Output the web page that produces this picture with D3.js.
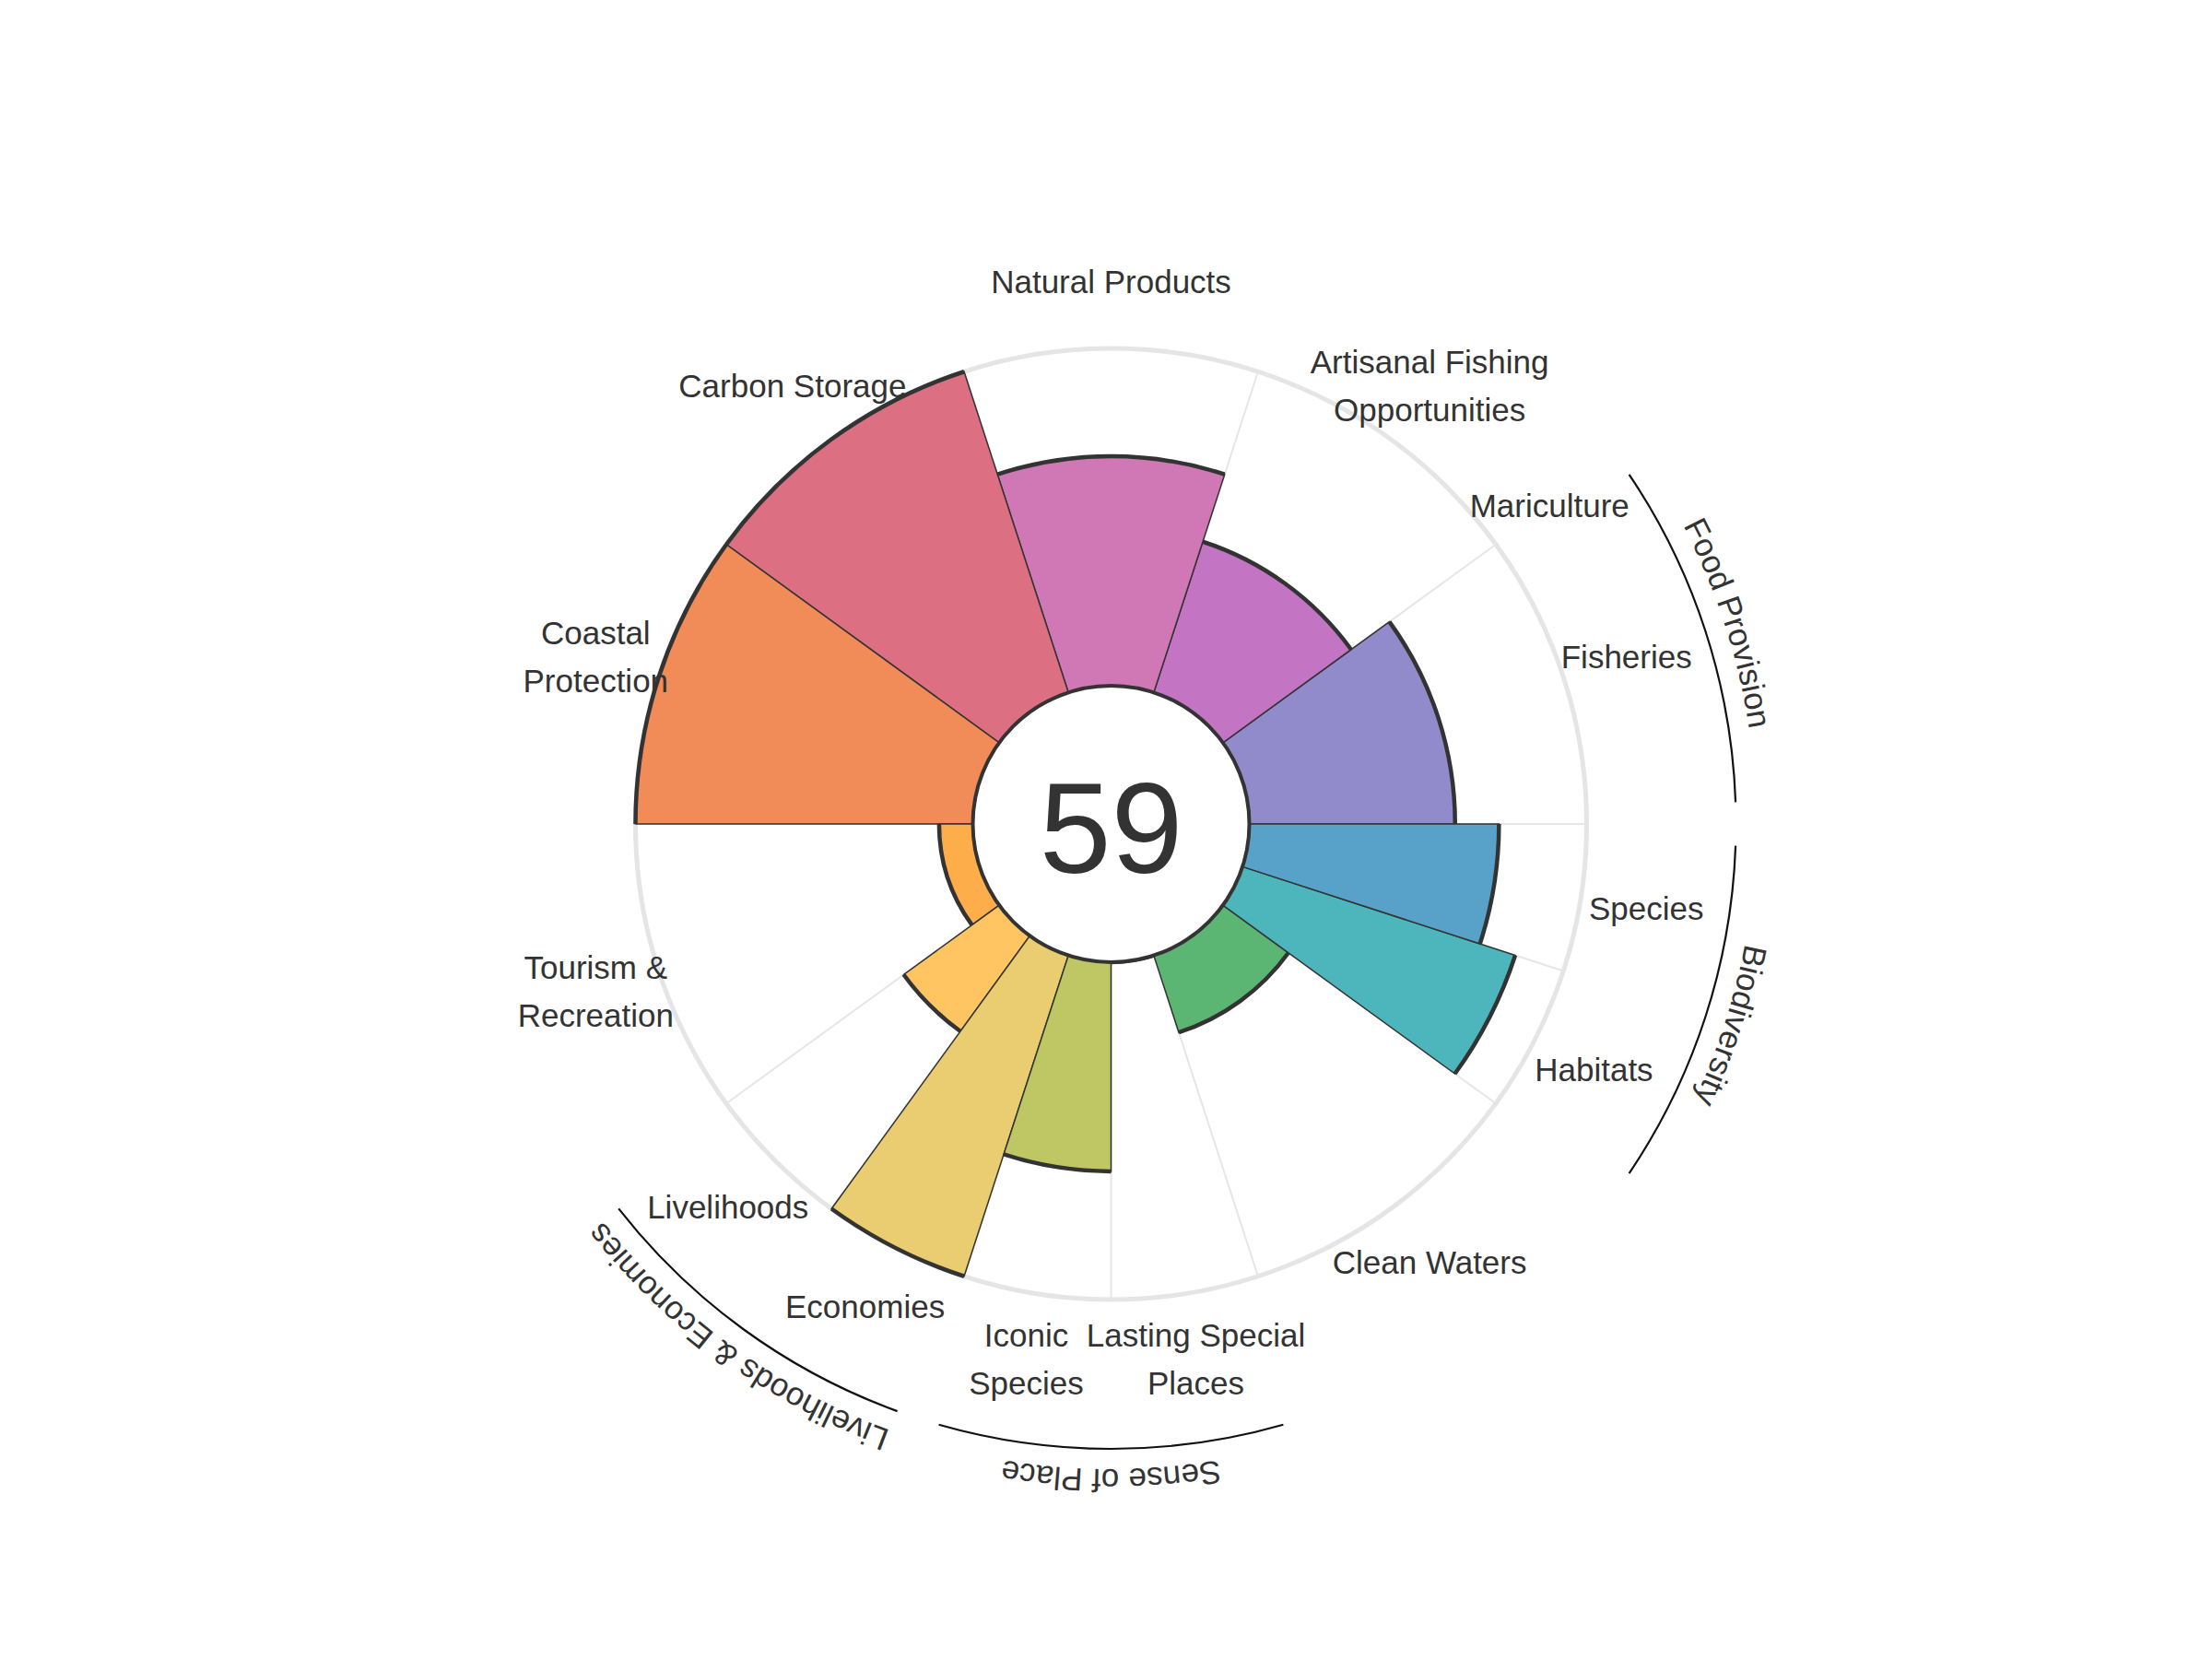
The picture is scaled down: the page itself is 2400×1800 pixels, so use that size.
<!DOCTYPE html>
<html>
<head>
<meta charset="utf-8">
<script src="https://cdn.jsdelivr.net/npm/d3@7"></script>
<style>
  body { margin: 0; background: #fff; }
  svg { font-family: "Liberation Sans", Arial, sans-serif; }
</style>
</head>
<body>
<svg id="flower"></svg>
<script>
// Goal names, scores and weights (counter-clockwise from east)
const goals = ['Fisheries', 'Mariculture', 'Artisanal Fishing\nOpportunities', 'Natural Products',
  'Carbon Storage', 'Coastal\nProtection', 'Tourism &\nRecreation', 'Livelihoods', 'Economies',
  'Iconic\nSpecies', 'Lasting Special\nPlaces', 'Clean Waters', 'Habitats', 'Species'];
const scores = [61, null, 47, 68, 100, 100, 10, 35, 100, 62, 0, 24, 85, 74];
const weights = [1, 0, 1, 1, 1, 1, 1, 0.5, 0.5, 0.5, 0.5, 1, 0.5, 0.5];
const goalColors = ['#928bcb', '#a783c8', '#c375c4', '#d077b5', '#dc6f81', '#f18b57', '#fdae4a',
  '#ffc562', '#eacd70', '#bec763', '#8dc16a', '#5cb673', '#4db6bc', '#58a2c9'];

// Supra-goal groups and the goals (by index) they hold
const groupNames = ['Food Provision', 'Biodiversity', 'Livelihoods & Economies', 'Sense of Place'];
const groupMembers = [[0, 1], [12, 13], [7, 8], [9, 10]];

const indexScore = 59;

// Layout constants
const WIDTH = 2400, HEIGHT = 1800;
const CX = 1205.5, CY = 894;
const HOLE = 150, OUTER = 516;
const LABEL_R = 588, GROUP_ARC_R = 678, GROUP_TEXT_R = 700;
const DEG = Math.PI / 180;

const svg = d3.select('#flower')
  .attr('width', WIDTH)
  .attr('height', HEIGHT)
  .attr('viewBox', `0 0 ${WIDTH} ${HEIGHT}`);

svg.append('rect').attr('width', WIDTH).attr('height', HEIGHT).attr('fill', '#fff');

const g = svg.append('g').attr('transform', `translate(${CX},${CY})`);

// Cumulative weights give each goal its angular slot
const cum = [0];
weights.forEach(w => cum.push(cum[cum.length - 1] + w));
const theta = d3.scaleLinear().domain([0, cum[cum.length - 1]]).range([0, 2 * Math.PI]);
const r = d3.scaleLinear().domain([0, 100]).range([HOLE, OUTER]);

const slots = goals.map((name, i) => ({
  name, score: scores[i], color: goalColors[i],
  t0: theta(cum[i]), t1: theta(cum[i + 1])
}));

// Outer grid circle and radial grid lines
g.append('circle')
  .attr('r', r(100))
  .attr('fill', 'none')
  .attr('stroke', '#e5e5e5')
  .attr('stroke-width', 5);

const bounds = Array.from(new Set(cum.slice(0, -1).map(c => +theta(c).toFixed(6))));
g.selectAll('.grid-line')
  .data(bounds)
  .enter().append('line')
  .attr('class', 'grid-line')
  .attr('x1', t => r(0) * Math.cos(t))
  .attr('y1', t => -r(0) * Math.sin(t))
  .attr('x2', t => r(100) * Math.cos(t))
  .attr('y2', t => -r(100) * Math.sin(t))
  .attr('stroke', '#e6e6e6')
  .attr('stroke-width', 2);

// Bars (d3.arc angles run clockwise from north)
const bars = slots.filter(d => d.score !== null && d.t1 > d.t0);
const arc = d3.arc()
  .innerRadius(r(0))
  .outerRadius(d => r(d.score))
  .startAngle(d => Math.PI / 2 - d.t1)
  .endAngle(d => Math.PI / 2 - d.t0);

g.selectAll('.bar')
  .data(bars)
  .enter().append('path')
  .attr('class', 'bar')
  .attr('d', arc)
  .attr('fill', d => d.color)
  .attr('stroke', '#333')
  .attr('stroke-width', 1.5);

// Thick outline along the outer edge of each bar
function outerEdge(d) {
  const p = d3.path();
  const rr = r(d.score);
  p.moveTo(rr * Math.cos(-d.t0), rr * Math.sin(-d.t0));
  p.arc(0, 0, rr, -d.t0, -d.t1, true);
  return p.toString();
}

g.selectAll('.edge')
  .data(bars)
  .enter().append('path')
  .attr('class', 'edge')
  .attr('d', outerEdge)
  .attr('fill', 'none')
  .attr('stroke', '#333')
  .attr('stroke-width', 4.5);

// Centre hole with the index score
g.append('circle')
  .attr('r', HOLE)
  .attr('fill', '#fff')
  .attr('stroke', '#333')
  .attr('stroke-width', 4);

g.append('text')
  .attr('x', 0)
  .attr('y', 53)
  .attr('text-anchor', 'middle')
  .attr('font-size', 140)
  .attr('fill', '#333')
  .text(indexScore);

// Goal labels round the outside
const LINE_H = 52;
const labels = g.selectAll('.goal-label')
  .data(slots)
  .enter().append('text')
  .attr('class', 'goal-label')
  .attr('text-anchor', 'middle')
  .attr('font-size', 35)
  .attr('fill', '#333')
  .attr('transform', d => {
    const t = (d.t0 + d.t1) / 2;
    return `translate(${LABEL_R * Math.cos(t)},${-LABEL_R * Math.sin(t)})`;
  });

labels.selectAll('tspan')
  .data(d => {
    const lines = d.name.split('\n');
    return lines.map((l, i) => ({ l, off: (i - (lines.length - 1) / 2) * LINE_H }));
  })
  .enter().append('tspan')
  .attr('x', 0)
  .attr('y', d => d.off)
  .attr('dy', '0.35em')
  .text(d => d.l);

// Group arcs and their curved titles
const groups = groupNames.map((name, i) => {
  const m = groupMembers[i];
  return {
    name,
    t0: d3.min(m, k => slots[k].t0),
    t1: d3.max(m, k => slots[k].t1)
  };
});

g.selectAll('.group-arc')
  .data(groups)
  .enter().append('path')
  .attr('class', 'group-arc')
  .attr('d', d => {
    const p = d3.path();
    const a0 = d.t0 + 2 * DEG, a1 = d.t1 - 2 * DEG;
    p.moveTo(GROUP_ARC_R * Math.cos(-a1), GROUP_ARC_R * Math.sin(-a1));
    p.arc(0, 0, GROUP_ARC_R, -a1, -a0, false);
    return p.toString();
  })
  .attr('fill', 'none')
  .attr('stroke', '#111')
  .attr('stroke-width', 2.2);

// Text paths run clockwise so letters face outward
g.selectAll('.group-path')
  .data(groups)
  .enter().append('path')
  .attr('class', 'group-path')
  .attr('id', (d, i) => `group-path-${i}`)
  .attr('fill', 'none')
  .attr('d', d => {
    const p = d3.path();
    const a0 = d.t0 - 20 * DEG, a1 = d.t1 + 20 * DEG;
    p.moveTo(GROUP_TEXT_R * Math.cos(-a1), GROUP_TEXT_R * Math.sin(-a1));
    p.arc(0, 0, GROUP_TEXT_R, -a1, -a0, false);
    return p.toString();
  });

g.selectAll('.group-label')
  .data(groups)
  .enter().append('text')
  .attr('class', 'group-label')
  .attr('font-size', 35)
  .attr('fill', '#333')
  .append('textPath')
  .attr('href', (d, i) => `#group-path-${i}`)
  .attr('startOffset', '50%')
  .attr('text-anchor', 'middle')
  .text(d => d.name);
</script>
</body>
</html>
